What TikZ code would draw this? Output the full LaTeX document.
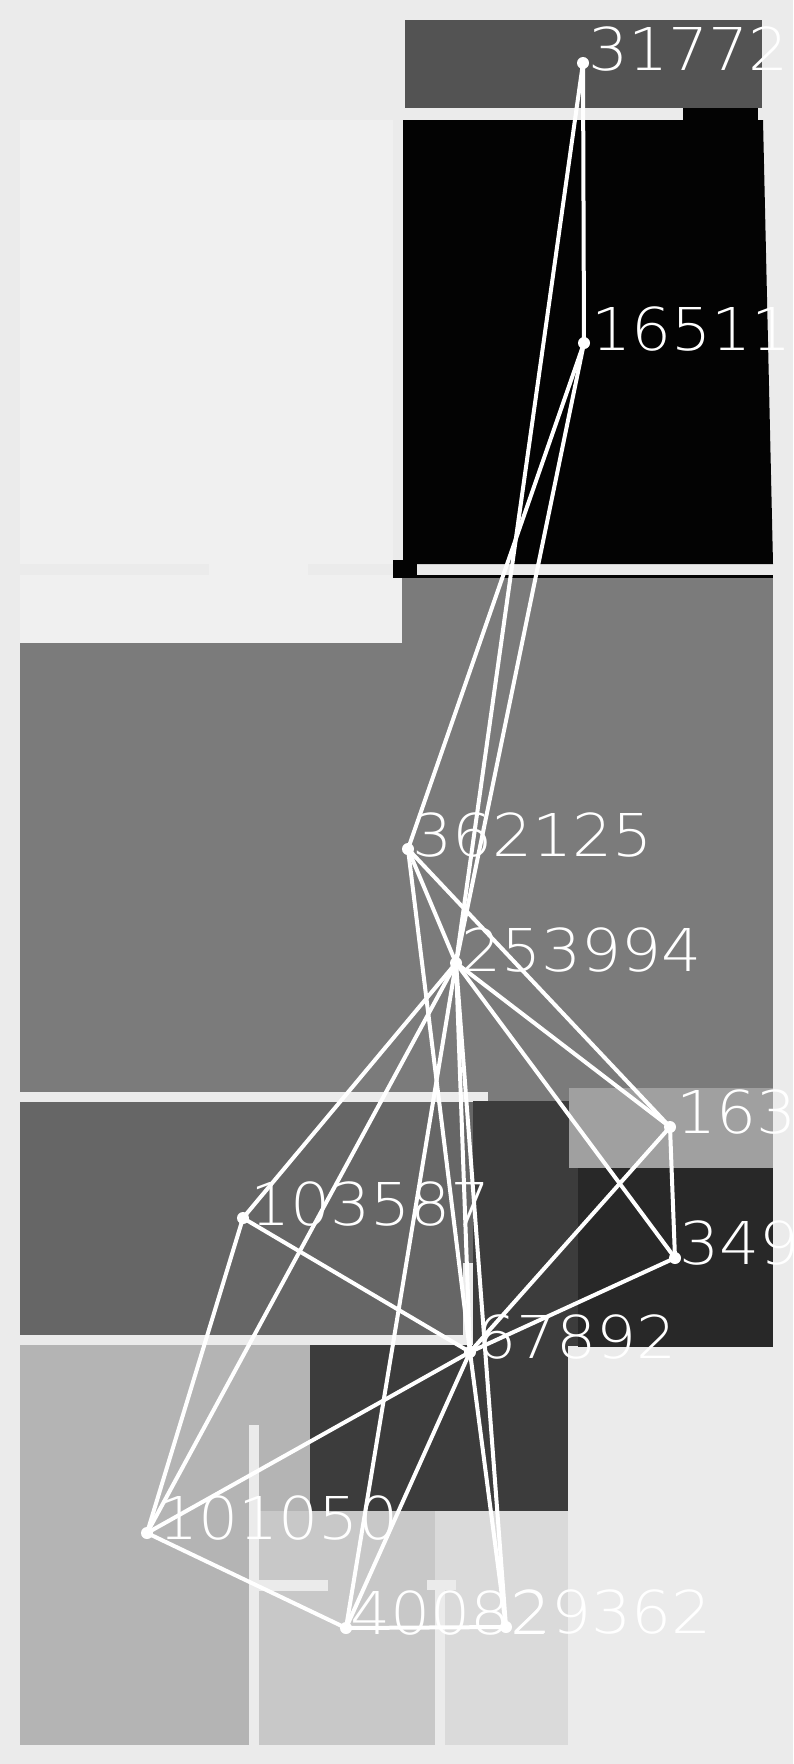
\documentclass[tikz,border=0pt]{standalone}
\usepackage{fontspec}
\IfFontExistsTF{DejaVu Sans ExtraLight}{\newfontfamily\labfont[FakeStretch=1.07]{DejaVu Sans ExtraLight}}{\newfontfamily\labfont[FakeStretch=1.07]{DejaVu Sans}}
\definecolor{bgc}{RGB}{235,235,235}
\definecolor{cA}{RGB}{83,83,83}
\definecolor{cBlk}{RGB}{3,3,3}
\definecolor{cC}{RGB}{240,240,240}
\definecolor{cD}{RGB}{123,123,123}
\definecolor{cE}{RGB}{102,102,102}
\definecolor{cF}{RGB}{60,60,60}
\definecolor{cG}{RGB}{160,160,160}
\definecolor{cH}{RGB}{40,40,40}
\definecolor{cI}{RGB}{180,180,180}
\definecolor{cJ}{RGB}{200,200,200}
\definecolor{cK}{RGB}{218,218,218}
\tikzset{
  dotnode/.style={circle,fill=white,draw=none,minimum size=12pt,inner sep=0pt},
  edge/.style={draw=white,line width=4pt},
  lab/.style={text=white,anchor=base west,inner sep=0pt,font=\labfont\fontsize{59}{59}\selectfont}
}
\begin{document}
\begin{tikzpicture}[x=1pt,y=-1pt]
\useasboundingbox (0,0) rectangle (793,1764);
\fill[bgc] (0,0) rectangle (793,1764);
% top
\fill[cA] (405,20) rectangle (762,108);
\fill[cBlk] (683,108) rectangle (758,121);
\fill[cBlk] (403,120) -- (763,120) -- (773,564) -- (403,564) -- cycle;
\fill[cC] (20,120) rectangle (393,564);
\fill[cC] (209,564) rectangle (308,575);
\fill[cC] (20,575) rectangle (402,643);
\fill[cBlk] (393,560) rectangle (417,578);
\fill[cBlk] (393,575) rectangle (773,578);
% middle
\fill[cD] (402,578) rectangle (773,1102);
\fill[cD] (20,643) rectangle (773,1102);
\fill[bgc] (20,1092) rectangle (488,1102);
\fill[cE] (20,1102) rectangle (473,1335);
\fill[cF] (473,1101) rectangle (578,1346);
\fill[bgc] (463,1263) rectangle (473,1345);
\fill[bgc] (20,1335) rectangle (473,1345);
\fill[cF] (310,1345) rectangle (568,1511);
\fill[cG] (569,1088) rectangle (773,1168);
\fill[cH] (578,1168) rectangle (773,1347);
% bottom
\fill[cI] (20,1345) rectangle (310,1511);
\fill[cI] (20,1511) rectangle (249,1745);
\fill[bgc] (249,1425) rectangle (259,1745);
\fill[cJ] (259,1511) rectangle (435,1745);
\fill[bgc] (259,1580) rectangle (328,1591);
\fill[cK] (435,1511) rectangle (568,1745);
\fill[bgc] (435,1580) rectangle (445,1745);
\fill[bgc] (427,1580) rectangle (456,1590);
% nodes
\node[dotnode] (a) at (583,63) {};
\node[dotnode] (b) at (584,343) {};
\node[dotnode] (c) at (408,849) {};
\node[dotnode] (d) at (456,963) {};
\node[dotnode] (e) at (670,1127) {};
\node[dotnode] (f) at (675,1258) {};
\node[dotnode] (g) at (243,1218) {};
\node[dotnode] (h) at (470,1352) {};
\node[dotnode] (i) at (147,1533) {};
\node[dotnode] (j) at (346,1628) {};
\node[dotnode] (k) at (506,1627) {};
% edges
\foreach \u/\v in {a/b,a/d,b/c,b/d,c/d,c/e,c/h,d/e,d/f,d/g,d/h,d/i,d/j,d/k,e/f,e/h,f/h,g/h,g/i,h/i,h/j,h/k,i/j,j/k}
  \draw[edge] (\u.center) -- (\v.center);
% labels
\node[lab] (la) at ([shift={(5,7)}]a.center) {31772};
\node[lab] (lb) at ([shift={(7,7)}]b.center) {16511};
\node[lab] (lc) at ([shift={(4,7)}]c.center) {362125};
\node[lab] (ld) at ([shift={(5,8)}]d.center) {253994};
\node[lab] (le) at ([shift={(6,6)}]e.center) {163};
\node[lab] (lf) at ([shift={(4,6)}]f.center) {349};
\node[lab] (lg) at ([shift={(7,7)}]g.center) {103587};
\node[lab] (lh) at ([shift={(6,6)}]h.center) {67892};
\node[lab] (li) at ([shift={(11,6)}]i.center) {101050};
\node[lab] (lj) at ([shift={(4,6)}]j.center) {40082};
\node[lab] (lk) at ([shift={(5,6)}]k.center) {29362};
\end{tikzpicture}
\end{document}
